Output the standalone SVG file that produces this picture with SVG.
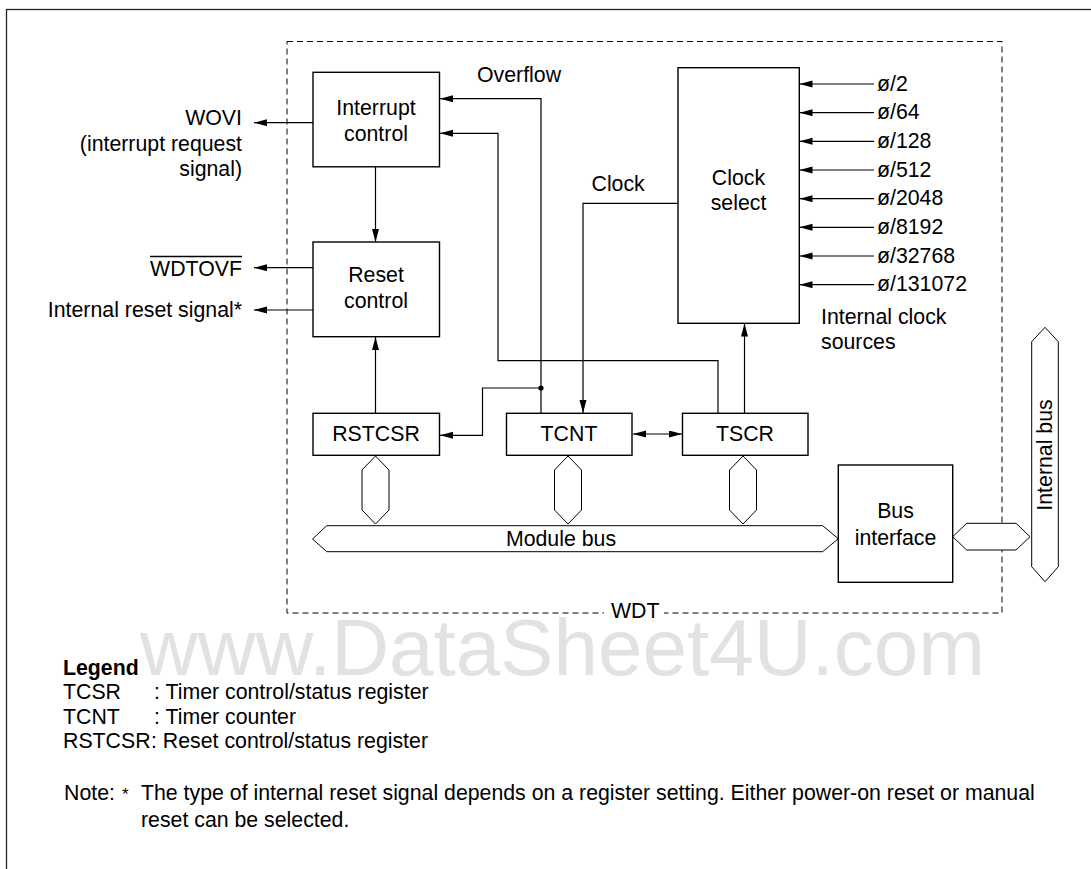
<svg xmlns="http://www.w3.org/2000/svg" width="1091" height="869" viewBox="0 0 1091 869">
<style>
text{font-family:"Liberation Sans",Arial,sans-serif;font-size:21.3px;fill:#000}
.mid{text-anchor:middle}
.end{text-anchor:end}
.box{fill:#fff;stroke:#000;stroke-width:1.4}
.ln{fill:none;stroke:#000;stroke-width:1.2}
.ar{fill:none;stroke:#000;stroke-width:1.2;marker-end:url(#ah)}
.bus{fill:#fff;stroke:#000;stroke-width:1}
.wm{font-size:80px;fill:#e2e2e2}
</style>
<defs>
<marker id="ah" markerUnits="userSpaceOnUse" markerWidth="14" markerHeight="8" refX="13" refY="3.5" orient="auto-start-reverse">
<path d="M0,0 L13,3.5 L0,7 z" fill="#000"/>
</marker>
</defs>
<rect x="6.5" y="9.5" width="1200" height="1000" fill="none" stroke="#222" stroke-width="1.3"/>
<text class="wm" x="140" y="675">www.DataSheet4U.com</text>
<rect x="287" y="41.5" width="715" height="571.5" fill="none" stroke="#000" stroke-width="1" stroke-dasharray="6,4"/>
<rect x="604" y="605" width="60" height="16" fill="#fff"/>
<text x="611" y="618">WDT</text>
<g id="connectors">
<line class="ar" x1="313" y1="122.7" x2="254" y2="122.7"/>
<line class="ar" x1="313" y1="267.7" x2="254" y2="267.7"/>
<line class="ar" x1="313" y1="310" x2="254" y2="310"/>
<line class="ar" x1="375.5" y1="167" x2="375.5" y2="242"/>
<line class="ar" x1="375.5" y1="413" x2="375.5" y2="337"/>
<polyline class="ar" points="541,413 541,98.7 440,98.7"/>
<polyline class="ar" points="718,413 718,360.7 498,360.7 498,133.3 440,133.3"/>
<polyline class="ar" points="541,388 482.5,388 482.5,435.3 440,435.3"/>
<circle cx="541" cy="388" r="2.6" fill="#000"/>
<polyline class="ar" points="678,203.3 583,203.3 583,413"/>
<line class="ar" x1="744.5" y1="413" x2="744.5" y2="323.5"/>
<line class="ln" x1="633" y1="434" x2="682" y2="434" style="marker-start:url(#ah);marker-end:url(#ah)"/>
<line class="ar" x1="874" y1="84" x2="799.5" y2="84"/>
<line class="ar" x1="874" y1="112.7" x2="799.5" y2="112.7"/>
<line class="ar" x1="874" y1="141.3" x2="799.5" y2="141.3"/>
<line class="ar" x1="874" y1="170" x2="799.5" y2="170"/>
<line class="ar" x1="874" y1="198.7" x2="799.5" y2="198.7"/>
<line class="ar" x1="874" y1="227.3" x2="799.5" y2="227.3"/>
<line class="ar" x1="874" y1="256" x2="799.5" y2="256"/>
<line class="ar" x1="874" y1="284.7" x2="799.5" y2="284.7"/>
<polygon class="bus" points="375.5,456 389,470 389,510 375.5,524 362,510 362,470"/>
<polygon class="bus" points="568,456 581.5,470 581.5,510 568,524 554.5,510 554.5,470"/>
<polygon class="bus" points="743,456 756.5,470 756.5,510 743,524 729.5,510 729.5,470"/>
<polygon class="bus" points="312.5,539 326.8,525.7 822.7,525.7 838.3,538.7 822.7,551.7 326.8,551.7"/>
<polygon class="bus" points="952.7,536.7 966.7,523.3 1016,523.3 1030,536.7 1016,550 966.7,550"/>
</g>
<g id="labels">
<text class="end" x="242" y="125">WOVI</text>
<text class="end" x="242" y="150.7">(interrupt request</text>
<text class="end" x="242" y="176">signal)</text>
<text class="end" x="242" y="276">WDTOVF</text>
<line x1="150" y1="256.5" x2="242" y2="256.5" stroke="#000" stroke-width="1.3"/>
<text class="end" x="242" y="317">Internal reset signal*</text>
<text x="477" y="82">Overflow</text>
<text x="591.5" y="190.5">Clock</text>
<text x="877" y="90.5">ø/2</text>
<text x="877" y="119.2">ø/64</text>
<text x="877" y="147.8">ø/128</text>
<text x="877" y="176.5">ø/512</text>
<text x="877" y="205.2">ø/2048</text>
<text x="877" y="233.8">ø/8192</text>
<text x="877" y="262.5">ø/32768</text>
<text x="877" y="291.2">ø/131072</text>
<text x="821" y="323.5">Internal clock</text>
<text x="821" y="348.5">sources</text>
<text class="mid" x="561" y="546">Module bus</text>
</g>
<g id="interrupt-control">
<rect class="box" x="313" y="72.3" width="126.5" height="94.5"/>
<text class="mid" x="376" y="115">Interrupt</text>
<text class="mid" x="376" y="140.5">control</text>
</g>
<g id="reset-control">
<rect class="box" x="313" y="242" width="126.5" height="94.7"/>
<text class="mid" x="376" y="282">Reset</text>
<text class="mid" x="376" y="307.5">control</text>
</g>
<g id="clock-select">
<rect class="box" x="678" y="67.7" width="121.3" height="255.6"/>
<text class="mid" x="738.5" y="184.5">Clock</text>
<text class="mid" x="738.5" y="210">select</text>
</g>
<g id="rstcsr">
<rect class="box" x="313" y="413.3" width="126.5" height="42"/>
<text class="mid" x="376" y="441">RSTCSR</text>
</g>
<g id="tcnt">
<rect class="box" x="506.5" y="413.3" width="125.5" height="42"/>
<text class="mid" x="569" y="441">TCNT</text>
</g>
<g id="tscr">
<rect class="box" x="682.5" y="413.3" width="125.5" height="42"/>
<text class="mid" x="745" y="441">TSCR</text>
</g>
<g id="bus-interface">
<rect class="box" x="838.3" y="465" width="114.4" height="117.3"/>
<text class="mid" x="895.5" y="518">Bus</text>
<text class="mid" x="895.5" y="544.5">interface</text>
</g>
<g id="internal-bus">
<polygon class="bus" points="1045,327.3 1058.3,341.7 1058.3,566.7 1045,581.7 1031.7,566.7 1031.7,341.7"/>
<text class="mid" transform="translate(1052,455) rotate(-90)">Internal bus</text>
</g>
<g id="legend">
<text x="63" y="675" font-weight="bold">Legend</text>
<text x="63" y="698.5">TCSR</text>
<text x="154" y="698.5">: Timer control/status register</text>
<text x="63" y="723.5">TCNT</text>
<text x="154" y="723.5">: Timer counter</text>
<text x="63" y="748">RSTCSR</text>
<text x="151" y="748">: Reset control/status register</text>
<text x="64" y="800">Note:</text>
<text x="122" y="800" style="font-size:17px">*</text>
<text x="141" y="800">The type of internal reset signal depends on a register setting. Either power-on reset or manual</text>
<text x="141" y="827">reset can be selected.</text>
</g>
</svg>
